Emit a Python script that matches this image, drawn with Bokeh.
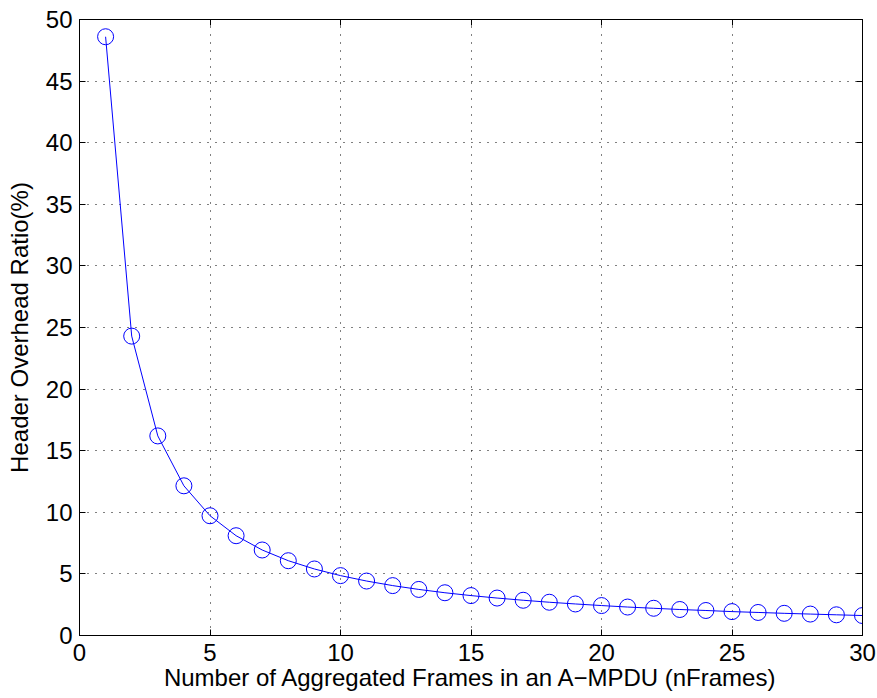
from bokeh.plotting import figure
from bokeh.models import LinearAxis, Range1d, FixedTicker, CustomJSTickFormatter
from bokeh.embed import file_html
from bokeh.resources import INLINE

n_frames = list(range(1, 31))
overhead = [48.6, 24.3, 16.2, 12.15, 9.72, 8.1, 6.94, 6.07, 5.4, 4.86,
            4.42, 4.05, 3.74, 3.47, 3.24, 3.04, 2.86, 2.7, 2.56, 2.43,
            2.31, 2.21, 2.11, 2.03, 1.94, 1.87, 1.8, 1.74, 1.68, 1.62]
x_ticks = [0, 5, 10, 15, 20, 25, 30]
y_ticks = [0, 5, 10, 15, 20, 25, 30, 35, 40, 45, 50]

FONT = "Liberation Sans"
FS = "24px"

p = figure(width=877, height=698, output_backend="svg", toolbar_location=None,
           x_range=Range1d(0, 30), y_range=Range1d(0, 50),
           min_border_left=79, min_border_right=15, min_border_top=19, min_border_bottom=63,
           x_axis_label="Number of Aggregated Frames in an A\u2212MPDU (nFrames)",
           y_axis_label="Header Overhead Ratio(%)")
p.background_fill_color = "white"
p.border_fill_color = "white"
p.outline_line_color = "black"
p.outline_line_width = 1

for ax, ticks in ((p.xaxis[0], x_ticks), (p.yaxis[0], y_ticks)):
    ax.ticker = FixedTicker(ticks=ticks)
    ax.major_tick_in = 6
    ax.major_tick_out = 0
    ax.minor_tick_in = 0
    ax.minor_tick_out = 0
    ax.axis_line_color = "black"
    ax.major_label_text_font = FONT
    ax.major_label_text_font_size = FS
    ax.major_label_text_color = "black"
    ax.axis_label_text_font = FONT
    ax.axis_label_text_font_size = FS
    ax.axis_label_text_font_style = "normal"
    ax.axis_label_text_color = "black"
p.xaxis[0].major_label_standoff = 8
p.yaxis[0].major_label_standoff = 7
p.xaxis[0].axis_label_standoff = 0
p.yaxis[0].axis_label_standoff = 10

blank = CustomJSTickFormatter(code="return '';")
top = LinearAxis(ticker=FixedTicker(ticks=x_ticks), major_tick_in=6, major_tick_out=0,
                 minor_tick_in=0, minor_tick_out=0, formatter=blank,
                 major_label_standoff=0)
right = LinearAxis(ticker=FixedTicker(ticks=y_ticks), major_tick_in=6, major_tick_out=0,
                   minor_tick_in=0, minor_tick_out=0, formatter=blank,
                   major_label_standoff=0)
p.add_layout(top, "above")
p.add_layout(right, "right")

p.xgrid.ticker = FixedTicker(ticks=x_ticks)
p.ygrid.ticker = FixedTicker(ticks=y_ticks)
for g in (p.xgrid[0], p.ygrid[0]):
    g.grid_line_color = "black"
    g.grid_line_dash = "1 7"
    g.grid_line_width = 1

p.line(n_frames, overhead, line_color="#0000ff", line_width=1)
p.scatter(n_frames, overhead, marker="circle", size=16, fill_color=None,
          line_color="#0000ff", line_width=1)

open("out.html", "w").write(file_html(p, INLINE))
